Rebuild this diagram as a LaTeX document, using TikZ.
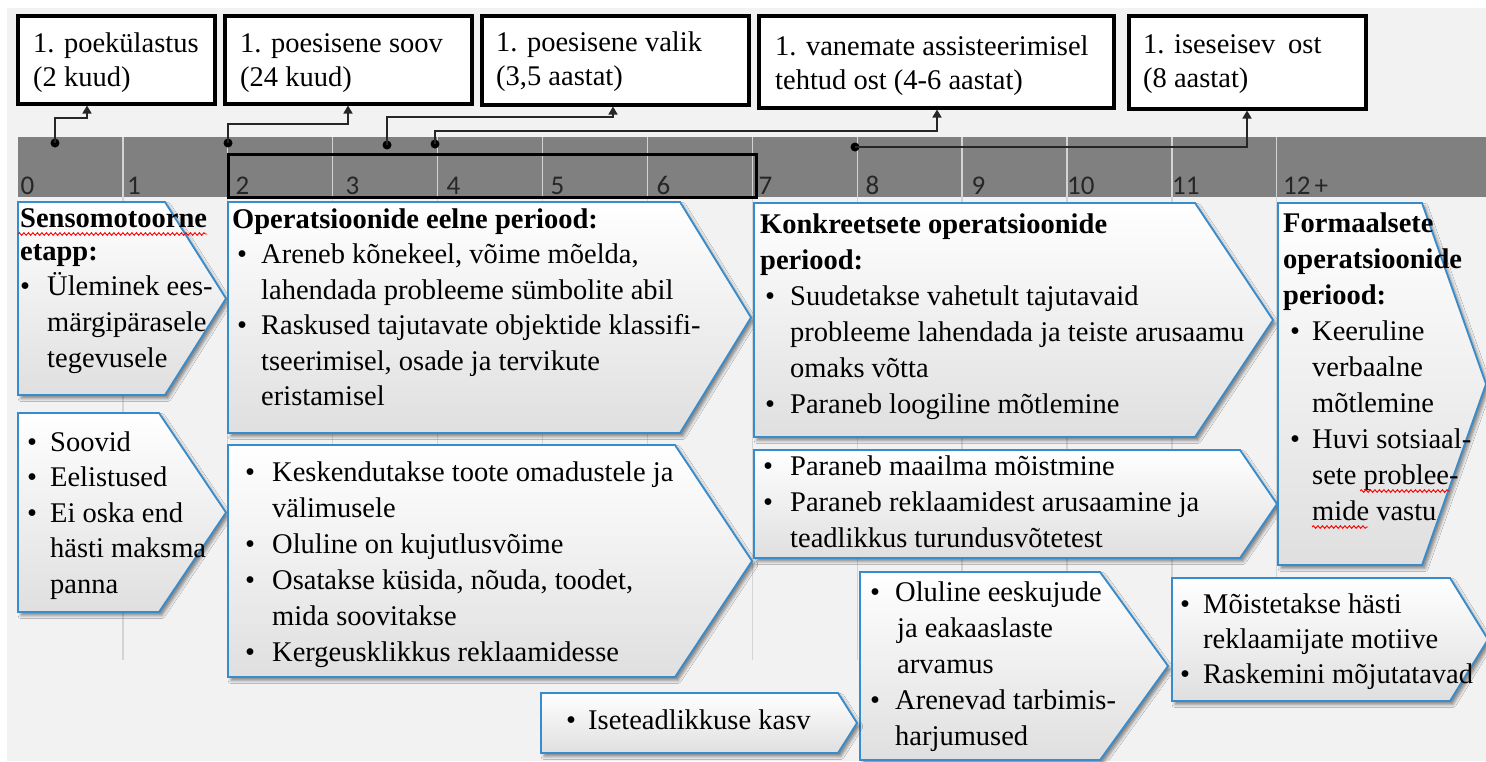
\documentclass[tikz,border=0pt]{standalone}
\usepackage{fontspec}
\setmainfont{Liberation Serif}
\newfontfamily\carl{Carlito}
\usetikzlibrary{arrows.meta,shadows,shadows.blur,decorations.pathmorphing}
\definecolor{bgc}{HTML}{F2F2F2}
\definecolor{barc}{HTML}{808080}
\definecolor{tickc}{HTML}{D4D4D4}
\definecolor{pblue}{RGB}{55,140,205}
\newcommand{\bu}[1][25pt]{\makebox[#1][l]{•}}
\newcommand{\ind}[1][25pt]{\hspace*{#1}}
\newcommand{\tb}[1]{\parbox[t]{700pt}{\raggedright #1}}
\newcommand{\homeplate}[5]{\path[plate] (#1,#2) -- (#3,#2) -- (#4,{(#2+#5)/2}) -- (#3,#5) -- (#1,#5) -- cycle;}
\begin{document}
\begin{tikzpicture}[x=1pt,y=-1pt,
  txt/.style={anchor=base west, inner sep=0pt, font=\fontsize{28.5}{36}\selectfont},
  toptxt/.style={anchor=base west, inner sep=0pt, font=\fontsize{28.5}{34}\selectfont},
  topbox/.style={draw=black, line width=3.5pt, fill=white, anchor=north west, inner sep=0pt},
  conn/.style={draw=black!85, line width=1.6pt, -{Triangle[width=9pt,length=8pt]}},
  dot/.style={circle, fill=black, inner sep=0pt, minimum size=9pt},
  lbl/.style={anchor=base west, inner sep=0pt, font=\carl\fontsize{27}{27}\selectfont, text=black!85},
  plate/.style={draw=pblue, line width=1.8pt, top color=white, bottom color=gray!25, line join=miter,
    blur shadow={shadow xshift=3pt, shadow yshift=-3.5pt, shadow blur radius=3pt, shadow opacity=45}},
  squig/.style={red, line width=0.9pt, decorate, decoration={snake, amplitude=1.3pt, segment length=4.5pt}}]
\useasboundingbox (0,0) rectangle (1486,761);
\fill[white] (0,0) rectangle (1486,761);
\fill[bgc] (7,8) rectangle (1486,761);
% timeline bar
\fill[barc] (18,137) rectangle (1486,197);
\foreach \i in {1,...,12} \draw[tickc, line width=1.3pt] ({18+104.9*\i},137) -- ({18+104.9*\i},660);
\foreach \x/\t in {20.5/0,127/1,235.5/2,345.5/3,446.5/4,550.5/5,656.5/6,758.5/7,865.5/8,971.5/9,1067/10,1172/11}
  \node[lbl] (lab\t) at (\x,194) {\t};
\node[lbl] (lab12) at (1283,194) {12\hspace{0.15em}+};
\draw[black, line width=3pt] (228,154) rectangle (756,197);
% top boxes
\node[topbox, minimum width=197pt, minimum height=88pt] (b1) at (16,14) {};
\node[topbox, minimum width=247pt, minimum height=88pt] (b2) at (223,14) {};
\node[topbox, minimum width=267pt, minimum height=89pt] (b3) at (480,14) {};
\node[topbox, minimum width=355pt, minimum height=92pt] (b4) at (757,14) {};
\node[topbox, minimum width=237pt, minimum height=93pt] (b5) at (1127,14) {};
\node[toptxt] (b1t) at (33,52) {\tb{1. poekülastus\\(2 kuud)}};
\node[toptxt] (b2t) at (240,52) {\tb{1. poesisene soov\\(24 kuud)}};
\node[toptxt] (b3t) at (496,51) {\tb{1. poesisene valik\\(3,5 aastat)}};
\node[toptxt] (b4t) at (775,55) {\tb{1. vanemate assisteerimisel\\tehtud ost (4-6 aastat)}};
\node[toptxt] (b5t) at (1143,53) {\tb{1. iseseisev\hspace{0.45em}ost\\(8 aastat)}};
% connectors
\node[dot] (d1) at (55,143) {};
\node[dot] (d2) at (228,143) {};
\node[dot] (d3) at (387,145) {};
\node[dot] (d4) at (435,144) {};
\node[dot] (d5) at (855,147) {};
\draw[conn] (d1.center) -- ++(0,-25) -| (87,0 |- b1.south);
\draw[conn] (d2.center) -- ++(0,-19) -| (348,0 |- b2.south);
\draw[conn] (d3.center) -- ++(0,-28) -| (613,0 |- b3.south);
\draw[conn] (d4.center) -- ++(0,-13) -| (937,0 |- b4.south);
\draw[conn] (d5.center) -| (1247,0 |- b5.south);
% home plates
\homeplate{18}{202}{165}{226}{395}
\homeplate{18}{413}{159}{226}{612}
\homeplate{228}{202}{680}{751}{433}
\homeplate{228}{445}{675}{752}{677}
\homeplate{754}{203}{1195}{1273}{437}
\homeplate{754}{450}{1240}{1277}{558}
\homeplate{1278}{203}{1422}{1486}{565}
\homeplate{860}{572}{1100}{1168}{760}
\homeplate{1172}{578}{1450}{1488}{701}
\homeplate{541}{693}{838}{857}{753}
% texts
\node[txt] (t1) at (20,227) {\tb{\textbf{Sensomotoorne}\\[-3pt]\textbf{etapp:}\\[-1pt]\bu[27pt]Üleminek ees-\\\ind[27pt]märgipärasele\\\ind[27pt]tegevusele}};
\node[txt, font=\fontsize{28.5}{35.5}\selectfont] (t2) at (27,451) {\tb{\bu[23pt]Soovid\\\bu[23pt]Eelistused\\\bu[23pt]Ei oska end\\\ind[23pt]hästi maksma\\\ind[23pt]panna}};
\node[txt, font=\fontsize{28.5}{35.5}\selectfont] (t3) at (232,228) {\tb{\textbf{Operatsioonide eelne periood:}\\\ind[5pt]\bu[24pt]Areneb kõnekeel, võime mõelda,\\\ind[29pt]lahendada probleeme sümbolite abil\\\ind[5pt]\bu[24pt]Raskused tajutavate objektide klassifi-\\\ind[29pt]tseerimisel, osade ja tervikute\\\ind[29pt]eristamisel}};
\node[txt] (t4) at (245,481) {\tb{\bu[27pt]Keskendutakse toote omadustele ja\\\ind[27pt]välimusele\\\bu[27pt]Oluline on kujutlusvõime\\\bu[27pt]Osatakse küsida, nõuda, toodet,\\\ind[27pt]mida soovitakse\\\bu[27pt]Kergeusklikkus reklaamidesse}};
\node[txt] (t5) at (760,233) {\tb{\textbf{Konkreetsete operatsioonide}\\\textbf{periood:}\\\ind[5pt]\bu[25pt]Suudetakse vahetult tajutavaid\\\ind[30pt]probleeme lahendada ja teiste arusaamu\\\ind[30pt]omaks võtta\\\ind[5pt]\bu[25pt]Paraneb loogiline mõtlemine}};
\node[txt] (t6) at (763,475) {\tb{\bu[27pt]Paraneb maailma mõistmine\\\bu[27pt]Paraneb reklaamidest arusaamine ja\\\ind[27pt]teadlikkus turundusvõtetest}};
\node[txt] (t7) at (1283,232) {\tb{\textbf{Formaalsete}\\\textbf{operatsioonide}\\\textbf{periood:}\\\ind[7pt]\bu[22pt]Keeruline\\\ind[29pt]verbaalne\\\ind[29pt]mõtlemine\\\ind[7pt]\bu[22pt]Huvi sotsiaal-\\\ind[29pt]sete problee-\\\ind[29pt]mide vastu}};
\node[txt] (t8) at (870,601) {\tb{\bu[25pt]Oluline eeskujude\\\ind[27pt]ja eakaaslaste\\\ind[27pt]arvamus\\\bu[25pt]Arenevad tarbimis-\\\ind[25pt]harjumused}};
\node[txt, font=\fontsize{28.5}{35}\selectfont] (t9) at (1180,613) {\tb{\bu[23pt]Mõistetakse hästi\\\ind[23pt]reklaamijate motiive\\\bu[23pt]Raskemini mõjutatavad}};
\node[txt] (t10) at (566,729) {\tb{\bu[22pt]Iseteadlikkuse kasv}};
% spell-check squiggles
\draw[squig] (18,234) -- (207,234);
\draw[squig] (1360,491) -- (1450,491);
\draw[squig] (1312,527) -- (1368,527);
\end{tikzpicture}
\end{document}
